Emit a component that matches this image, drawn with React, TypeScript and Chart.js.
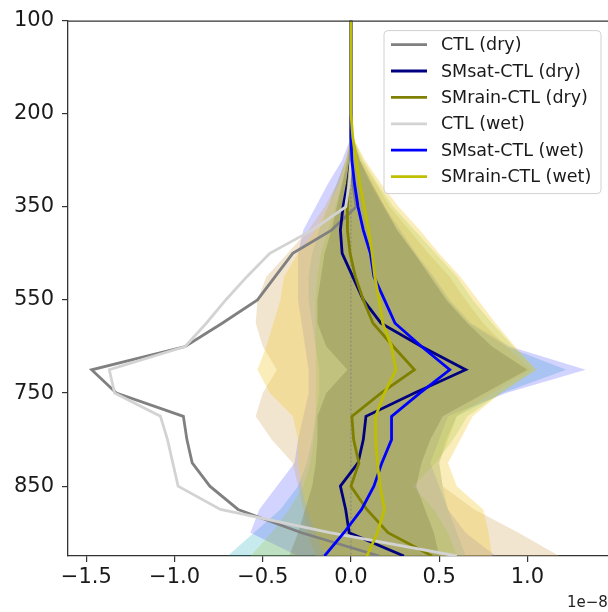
import React, { useEffect, useRef } from 'react';
import { Chart, registerables } from 'chart.js';
Chart.register(...registerables);

// ---------- data ----------
const levelIndex = [0, 1, 2, 3, 4, 5, 6, 7, 8, 9, 10, 11, 12, 13, 14, 15, 16, 17, 18, 19, 20, 21, 22, 23];
const yTickLevels = [0, 4, 8, 12, 16, 20];
const yTickLabels = ['100', '200', '350', '550', '750', '850'];
const xTickValues = [-1.5, -1.0, -0.5, 0.0, 0.5, 1.0];
const xTickLabels = ['\u22121.5', '\u22121.0', '\u22120.5', '0.0', '0.5', '1.0'];
const offsetLabel = '1e\u22128';

const seriesNames = ['CTL (dry)', 'SMsat-CTL (dry)', 'SMrain-CTL (dry)', 'CTL (wet)', 'SMsat-CTL (wet)', 'SMrain-CTL (wet)'];

const ctlDry = [0, 0, 0, 0, 0, 0, 0, 0.01, 0.03, -0.11, -0.33, -0.43, -0.53, -0.73, -0.94, -1.47, -1.33, -0.95, -0.93, -0.9, -0.8, -0.64, -0.28, 0.16];
const smsatDry = [0, 0, 0, 0, 0, 0, -0.005, -0.02, -0.045, -0.06, -0.05, 0.01, 0.07, 0.17, 0.4, 0.65, 0.36, 0.085, 0.07, 0.04, -0.06, -0.03, -0.01, 0.3];
const smrainDry = [0, 0, 0, 0, 0, 0, 0, -0.015, -0.02, -0.02, -0.005, 0.025, 0.07, 0.125, 0.24, 0.36, 0.17, 0.005, 0.015, 0.045, 0.0, 0.09, 0.21, 0.46];
const ctlWet = [0, 0, 0, 0, 0, 0, 0, -0.01, -0.03, -0.22, -0.46, -0.59, -0.71, -0.82, -0.94, -1.37, -1.34, -1.08, -1.04, -1.01, -0.98, -0.74, -0.12, 0.6];
const smsatWet = [0, 0, 0, 0, 0, 0, 0.005, 0.02, 0.04, 0.07, 0.11, 0.13, 0.19, 0.25, 0.4, 0.56, 0.39, 0.23, 0.23, 0.175, 0.13, 0.06, -0.04, -0.15];
const smrainWet = [0, 0, 0, 0, 0, 0.01, 0.03, 0.05, 0.075, 0.1, 0.12, 0.135, 0.16, 0.18, 0.23, 0.255, 0.19, 0.14, 0.14, 0.15, 0.165, 0.19, 0.15, 0.09];

// spread bands (low / high edge)
const bandOliveLo = [0, 0, 0, 0, 0, 0, -0.02, -0.05, -0.08, -0.11, -0.15, -0.17, -0.19, -0.19, -0.14, -0.02, -0.14, -0.19, -0.19, -0.2, -0.22, -0.26, -0.3, -0.35];
const bandOliveHi = [0, 0, 0, 0, 0, 0.01, 0.05, 0.12, 0.19, 0.26, 0.36, 0.45, 0.54, 0.66, 0.8, 1.0, 0.76, 0.52, 0.45, 0.4, 0.37, 0.42, 0.47, 0.5];
const bandGreenLo = [0, 0, 0, 0, 0, 0, -0.02, -0.05, -0.09, -0.13, -0.17, -0.19, -0.2, -0.2, -0.2, -0.2, -0.2, -0.2, -0.21, -0.23, -0.27, -0.35, -0.45, -0.57];
const bandGreenHi = [0, 0, 0, 0, 0, 0.01, 0.07, 0.15, 0.24, 0.36, 0.48, 0.6, 0.69, 0.8, 0.92, 1.05, 0.85, 0.66, 0.58, 0.48, 0.35, 0.47, 0.55, 0.6];
const bandGoldLo = [0, 0, 0, 0, 0, 0, -0.03, -0.07, -0.13, -0.2, -0.3, -0.38, -0.4, -0.44, -0.48, -0.53, -0.46, -0.33, -0.3, -0.3, -0.28, -0.25, -0.2, -0.15];
const bandGoldHi = [0, 0, 0, 0, 0, 0.01, 0.08, 0.17, 0.27, 0.39, 0.5, 0.62, 0.72, 0.82, 0.93, 1.05, 0.85, 0.69, 0.62, 0.55, 0.6, 0.75, 0.78, 0.8];
const bandTanLo = [0, 0, 0, 0, 0, 0, -0.03, -0.08, -0.15, -0.24, -0.36, -0.48, -0.53, -0.54, -0.5, -0.42, -0.5, -0.54, -0.45, -0.33, -0.3, -0.27, -0.25, -0.2];
const bandTanHi = [0, 0, 0, 0, 0, 0.01, 0.06, 0.14, 0.22, 0.33, 0.44, 0.56, 0.65, 0.75, 0.88, 1.02, 0.8, 0.6, 0.55, 0.5, 0.52, 0.7, 0.95, 1.18];
const bandBlueLo = [0, 0, 0, 0, 0, 0, -0.05, -0.13, -0.2, -0.27, -0.3, -0.3, -0.3, -0.28, -0.26, -0.24, -0.24, -0.27, -0.3, -0.32, -0.42, -0.52, -0.57, -0.3];
const bandBlueHi = [0, 0, 0, 0, 0, 0.01, 0.05, 0.11, 0.19, 0.28, 0.37, 0.47, 0.56, 0.68, 0.9, 1.33, 0.88, 0.55, 0.5, 0.45, 0.5, 0.55, 0.65, 0.82];
const bandCyanLo = [0, 0, 0, 0, 0, 0, -0.03, -0.08, -0.13, -0.18, -0.22, -0.24, -0.24, -0.22, -0.2, -0.18, -0.18, -0.2, -0.22, -0.25, -0.3, -0.4, -0.55, -0.7];
const bandCyanHi = [0, 0, 0, 0, 0, 0.01, 0.05, 0.11, 0.18, 0.27, 0.36, 0.46, 0.55, 0.67, 0.88, 1.22, 0.86, 0.6, 0.54, 0.5, 0.52, 0.55, 0.6, 0.65];

const zeroLine = [0, 0];
const zeroLineLevels = [0, 23];

const X_MIN = -1.604;
const X_MAX = 1.457;

// ---------- helpers ----------
const toPoints = (vals: number[]) => vals.map((v, i) => ({ x: v, y: levelIndex[i] }));
const toBand = (lo: number[], hi: number[]) => [
  ...lo.map((v, i) => ({ x: v, y: levelIndex[i] })),
  ...hi.map((v, i) => ({ x: v, y: levelIndex[i] })).reverse(),
];

const FONT = "'DejaVu Sans', sans-serif";

const lineDs = (label: string, data: number[], color: string, order: number, legendIndex: number) => ({
  type: 'line' as const,
  label,
  data: toPoints(data),
  borderColor: color,
  backgroundColor: color,
  borderWidth: 2.8,
  pointRadius: 0,
  tension: 0,
  fill: false,
  order,
  inLegend: true,
  legendIndex,
});

const bandDs = (label: string, lo: number[], hi: number[], color: string, order: number) => ({
  type: 'line' as const,
  label,
  data: toBand(lo, hi),
  borderWidth: 0,
  borderColor: 'rgba(0,0,0,0)',
  backgroundColor: color,
  pointRadius: 0,
  tension: 0,
  fill: 'shape',
  order,
});

const mplPlugin = {
  id: 'mplExtras',
  afterDraw(chart: any) {
    const { ctx, chartArea } = chart;
    ctx.save();
    // top spine
    ctx.strokeStyle = '#333';
    ctx.lineWidth = 1.3;
    ctx.beginPath();
    ctx.moveTo(chartArea.left, chartArea.top + 0.5);
    ctx.lineTo(chartArea.right, chartArea.top + 0.5);
    ctx.stroke();

    // legend
    const items = chart.data.datasets
      .filter((d: any) => d.inLegend)
      .sort((a: any, b: any) => a.legendIndex - b.legendIndex);
    const bx = chartArea.right - 224;
    const by = chartArea.top + 10;
    const bw = 217;
    const bh = 163;
    const r = 4;
    ctx.beginPath();
    ctx.moveTo(bx + r, by);
    ctx.arcTo(bx + bw, by, bx + bw, by + bh, r);
    ctx.arcTo(bx + bw, by + bh, bx, by + bh, r);
    ctx.arcTo(bx, by + bh, bx, by, r);
    ctx.arcTo(bx, by, bx + bw, by, r);
    ctx.closePath();
    ctx.fillStyle = 'rgba(255,255,255,0.8)';
    ctx.fill();
    ctx.strokeStyle = '#d0d0d0';
    ctx.lineWidth = 1;
    ctx.stroke();
    ctx.font = `17.5px ${FONT}`;
    ctx.textBaseline = 'middle';
    ctx.textAlign = 'left';
    items.forEach((d: any, k: number) => {
      const yy = by + 14 + k * 26.4;
      ctx.strokeStyle = d.borderColor;
      ctx.lineWidth = 2.8;
      ctx.beginPath();
      ctx.moveTo(bx + 7, yy);
      ctx.lineTo(bx + 43, yy);
      ctx.stroke();
      ctx.fillStyle = '#1a1a1a';
      ctx.fillText(d.label, bx + 57, yy + 1);
    });

    // offset text
    ctx.font = `15px ${FONT}`;
    ctx.fillStyle = '#222';
    ctx.textBaseline = 'alphabetic';
    ctx.fillText(offsetLabel, chartArea.right - 41, 607);
    ctx.restore();
  },
};

export default function App() {
  const ref = useRef<HTMLCanvasElement>(null);
  useEffect(() => {
    if (!ref.current) return;
    const chart = new Chart(ref.current, {
      type: 'line',
      data: {
        datasets: [
          lineDs(seriesNames[0], ctlDry, '#808080', 6, 0),
          lineDs(seriesNames[1], smsatDry, '#000080', 5, 1),
          lineDs(seriesNames[2], smrainDry, '#808000', 4, 2),
          lineDs(seriesNames[3], ctlWet, '#d3d3d3', 3, 3),
          lineDs(seriesNames[4], smsatWet, '#0000ff', 2, 4),
          lineDs(seriesNames[5], smrainWet, '#bfbf00', 1, 5),
          {
            type: 'line' as const,
            label: 'zero',
            data: zeroLine.map((v, i) => ({ x: v, y: zeroLineLevels[i] })),
            borderColor: '#808080',
            borderWidth: 1,
            borderDash: [2, 2],
            pointRadius: 0,
            fill: false,
            order: 7,
          },
          bandDs('spread cyan', bandCyanLo, bandCyanHi, 'rgba(0,160,180,0.22)', 20),
          bandDs('spread blue', bandBlueLo, bandBlueHi, 'rgba(80,80,255,0.25)', 19),
          bandDs('spread tan', bandTanLo, bandTanHi, 'rgba(210,170,100,0.3)', 18),
          bandDs('spread gold', bandGoldLo, bandGoldHi, 'rgba(245,205,60,0.36)', 17),
          bandDs('spread green', bandGreenLo, bandGreenHi, 'rgba(165,195,60,0.25)', 16),
          bandDs('spread olive', bandOliveLo, bandOliveHi, 'rgba(115,115,60,0.28)', 15),
        ] as any,
      },
      options: {
        animation: false,
        responsive: false,
        devicePixelRatio: 1,
        events: [],
        layout: { padding: { top: 17, right: 0, left: 0, bottom: 0 } },
        plugins: { legend: { display: false }, tooltip: { enabled: false } },
        scales: {
          x: {
            type: 'linear',
            min: X_MIN,
            max: X_MAX,
            afterBuildTicks: (s: any) => {
              s.ticks = xTickValues.map((v) => ({ value: v }));
            },
            afterFit: (s: any) => {
              s.height = 56;
            },
            ticks: {
              callback: (_v: any, i: number) => xTickLabels[i],
              font: { family: FONT, size: 21 },
              color: '#1a1a1a',
              padding: 3,
              maxRotation: 0,
              autoSkip: false,
            },
            grid: { drawOnChartArea: false, drawTicks: true, tickLength: 6, color: '#333', lineWidth: 1.2 },
            border: { display: true, color: '#333', width: 1.3 },
          },
          y: {
            type: 'linear',
            reverse: true,
            min: 0,
            max: 23,
            afterBuildTicks: (s: any) => {
              s.ticks = yTickLevels.map((v) => ({ value: v }));
            },
            afterFit: (s: any) => {
              s.width = 68;
            },
            ticks: {
              callback: (_v: any, i: number) => yTickLabels[i],
              font: { family: FONT, size: 21 },
              color: '#1a1a1a',
              padding: 8,
              autoSkip: false,
            },
            grid: { drawOnChartArea: false, drawTicks: true, tickLength: 6, color: '#333', lineWidth: 1.2 },
            border: { display: true, color: '#333', width: 1.3 },
          },
        },
      } as any,
      plugins: [mplPlugin],
    });
    return () => chart.destroy();
  }, []);
  return (
    <div style={{ position: 'fixed', left: 0, top: 0, width: 608, height: 612, background: '#fff' }}>
      <canvas ref={ref} width={608} height={612} style={{ display: 'block' }} />
    </div>
  );
}
